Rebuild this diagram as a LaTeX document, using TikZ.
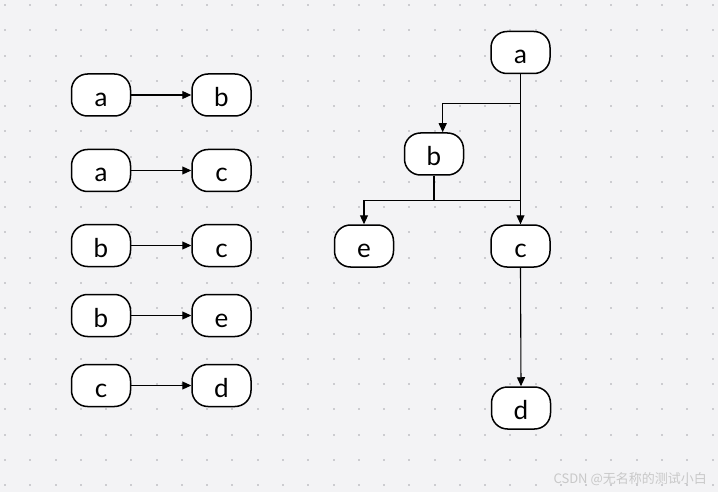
\documentclass[tikz,border=0pt]{standalone}
\usepackage{fontspec}
\setmainfont{Lato}
\newfontfamily\cjkfont{Noto Sans CJK SC}
\usetikzlibrary{arrows.meta}
\definecolor{bgcol}{RGB}{243,243,245}
\definecolor{dotcol}{RGB}{204,204,208}
\definecolor{wmcol}{RGB}{200,200,200}
\tikzset{
  box/.style={draw=black, fill=white, line width=1.5pt, rounded corners=16pt,
    minimum width=59pt, minimum height=42pt, inner sep=0pt,
    text height=23pt, text depth=0pt,
    font=\fontsize{26}{26}\selectfont},
  arr/.style={draw=black, line width=1.1pt, -{Triangle[length=9pt,width=8pt]}},
  plain/.style={draw=black, line width=1.1pt}
}
\begin{document}
\begin{tikzpicture}[x=1pt,y=-1pt]
\fill[bgcol] (0,0) rectangle (718,492);
\useasboundingbox (0,0) rectangle (718,492);
\foreach \i in {0,...,28}{
  \foreach \j in {0,...,19}{
    \fill[dotcol] ({5+25.27*\i-1},{5+25.27*\j-1}) rectangle ++(2,2);
  }
}
% left column
\node[box] (l1a) at (101,95) {a};
\node[box] (l1b) at (221.5,95) {b};
\node[box] (l2a) at (101,170.5) {a};
\node[box] (l2c) at (221.5,170.5) {c};
\node[box] (l3b) at (101,245.5) {b};
\node[box] (l3c) at (221.5,245.5) {c};
\node[box] (l4b) at (101,315.5) {b};
\node[box] (l4e) at (221.5,315.5) {e};
\node[box] (l5c) at (101,385.5) {c};
\node[box] (l5d) at (221.5,385.5) {d};
\draw[arr] (l1a) -- (l1b);
\draw[arr] (l2a) -- (l2c);
\draw[arr] (l3b) -- (l3c);
\draw[arr] (l4b) -- (l4e);
\draw[arr] (l5c) -- (l5d);
% tree
\node[box] (ta) at (520.5,52.5) {a};
\node[box] (tb) at (434,154) {b};
\node[box] (te) at (364,246) {e};
\node[box] (tc) at (520.5,246) {c};
\node[box] (td) at (521,408) {d};
\coordinate (aj) at ([yshift=-29pt]ta.south);
\coordinate (bj) at ([yshift=-25pt]tb.south);
\draw[arr] (aj) -| ([xshift=8.7pt]tb.north);
\draw[arr] (ta.south) -- (tc.north);
\draw[arr] (tb.south) -- (bj) -| (te.north);
\draw[plain] (bj) -| (tc.north);
\draw[arr] (tc.south) -- (td.north);
% watermark
\node[text=wmcol, font=\cjkfont\fontsize{13}{13}\selectfont, anchor=east, inner sep=0pt] (wm) at (707,479) {CSDN @无名称的测试小白};
\end{tikzpicture}
\end{document}
